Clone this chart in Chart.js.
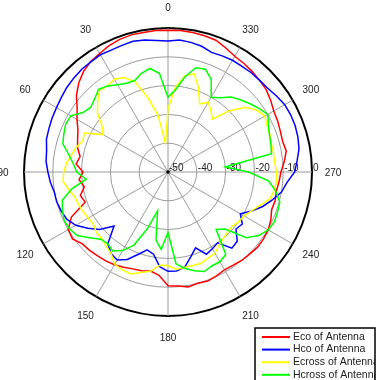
<!DOCTYPE html>
<html><head><meta charset="utf-8">
<script src="https://cdn.jsdelivr.net/npm/chart.js@4.4.0/dist/chart.umd.min.js"></script>
<style>html,body{margin:0;padding:0;background:#fff;overflow:hidden}canvas{display:block}</style>
</head><body>
<canvas id="c" width="387" height="380"></canvas>
<script>
// Measurement angles (degrees, counter-clockwise from top)
const angles = [0,5,10,15,20,25,30,35,40,45,50,55,60,65,70,75,80,85,90,95,100,105,110,115,
  120,125,130,135,140,145,150,155,160,165,170,175,180,185,190,195,200,205,210,215,220,225,230,235,
  240,245,250,255,260,265,270,275,280,285,290,295,300,305,310,315,320,325,330,335,340,345,350,355];

const eco = [-0.8,-0.7,-0.8,-0.7,-1.0,-1.6,-2.5,-3.2,-4.4,-6.2,-8.5,-11.5,
  -13.5,-15.5,-16.6,-17.5,-19.0,-18.0,-20.5,-19.0,-20.5,-18.5,-19.4,-13.0,
  -10.0,-9.5,-11.2,-11.5,-12.0,-12.3,-12.8,-13.5,-14.2,-14.5,-15.1,-14.0,
  -10.5,-10.3,-9.5,-10.0,-9.7,-10.2,-10.8,-10.5,-10.0,-9.8,-9.4,-9.5,
  -9.8,-10.6,-11.7,-11.5,-11.8,-11.3,-10.8,-9.5,-8.3,-8.8,-8.5,-8.0,
  -7.6,-6.5,-5.5,-5.0,-4.5,-4.0,-3.6,-2.5,-1.3,-1.0,-0.8,-0.7];

const hco = [-4.5,-4.2,-3.5,-3.0,-3.2,-3.3,-3.0,-3.3,-3.4,-3.8,-4.2,-4.8,
  -5.3,-5.6,-6.0,-6.3,-7.2,-7.5,-8.3,-9.0,-9.9,-10.0,-10.5,-11.2,
  -13.0,-16.0,-19.0,-23.5,-17.5,-15.5,-14.7,-16.5,-19.5,-22.0,-21.0,-17.0,
  -15.5,-15.5,-16.5,-19.5,-22.0,-18.5,-19.2,-20.0,-15.5,-16.0,-19.2,-18.5,
  -21.0,-18.0,-15.0,-12.5,-10.0,-8.5,-6.0,-5.0,-3.8,-3.3,-3.0,-3.0,
  -3.2,-4.0,-4.8,-5.0,-5.0,-5.2,-5.2,-5.5,-5.8,-4.8,-4.3,-4.0];

const ecross = [-28.0,-40.0,-30.0,-23.5,-16.7,-13.8,-12.8,-13.5,-13.0,-15.5,-18.0,-22.0,
  -24.0,-18.0,-18.5,-17.0,-16.0,-14.6,-13.8,-13.4,-15.0,-16.5,-17.0,-17.5,
  -18.0,-18.4,-17.5,-17.4,-16.5,-15.5,-13.0,-12.5,-12.3,-13.9,-15.0,-17.5,
  -17.5,-16.0,-16.4,-16.4,-16.3,-17.0,-17.4,-19.0,-20.0,-20.6,-20.8,-20.0,
  -19.5,-18.0,-16.0,-13.5,-12.5,-12.2,-12.3,-12.8,-12.8,-12.8,-12.3,-12.0,
  -11.2,-12.5,-15.0,-20.0,-26.0,-24.0,-22.0,-24.0,-19.0,-14.7,-16.0,-20.5];

const hcross = [-24.0,-15.6,-13.5,-14.5,-16.2,-16.0,-15.0,-13.5,-12.5,-14.0,-15.0,-14.0,
  -11.0,-10.8,-11.5,-12.2,-15.0,-17.0,-18.3,-21.5,-16.0,-12.0,-11.0,-10.2,
  -10.5,-11.5,-14.5,-17.0,-17.5,-16.5,-18.5,-22.0,-29.0,-36.0,-26.0,-23.0,
  -29.0,-18.0,-16.0,-14.5,-13.2,-14.0,-14.0,-15.0,-24.0,-22.0,-14.5,-11.5,
  -9.8,-9.2,-9.5,-9.8,-12.0,-15.0,-22.0,-30.0,-13.5,-13.0,-12.5,-11.5,
  -10.0,-11.5,-13.0,-14.5,-16.0,-18.5,-20.0,-14.5,-12.0,-12.5,-16.5,-21.5];

const seriesNames = ['Eco of Antenna','Hco of Antenna','Ecross of Antenna','Hcross of Antenna'];
const seriesColors = ['#ff0000','#0000ff','#ffff00','#00ff00'];
const radialTicks = [-50,-40,-30,-20,-10,0];
const angleTickLabels = [0,30,60,90,120,150,180,210,240,270,300,330];

// Radar scale runs clockwise; the plot's angles increase counter-clockwise.
const order = angles.map((a, i) => (angles.length - i) % angles.length);
const labels = order.map(k => String(angles[k]));
const toRadar = arr => order.map(k => arr[k]);

const FONT = '10px "Liberation Sans", Arial, sans-serif';
const LEGEND_FONT = '10.5px "Liberation Sans", Arial, sans-serif';

const polarDecor = {
  id: 'polarDecor',
  beforeDatasetsDraw(chart) {
    const s = chart.scales.r, ctx = chart.ctx;
    ctx.save();
    ctx.font = FONT;
    ctx.fillStyle = '#222';
    ctx.textAlign = 'left';
    ctx.textBaseline = 'bottom';
    const idx = labels.indexOf('270');
    radialTicks.forEach(v => {
      const p = s.getPointPositionForValue(idx, v);
      ctx.fillText(String(v), p.x + 1, p.y + 1);
    });
    ctx.textAlign = 'center';
    ctx.textBaseline = 'middle';
    labels.forEach((lab, i) => {
      if (!angleTickLabels.includes(Number(lab))) return;
      const p = s.getPointPosition(i, s.drawingArea + 21);
      ctx.fillText(lab, p.x, p.y + 1);
    });
    ctx.beginPath();
    ctx.arc(s.xCenter, s.yCenter, 1.8, 0, Math.PI * 2);
    ctx.fillStyle = '#000';
    ctx.fill();
    ctx.restore();
  },
  afterDraw(chart) {
    const ctx = chart.ctx;
    const lx = 255, ly = 328, lw = 120, lh = 60;
    ctx.save();
    ctx.fillStyle = '#fff';
    ctx.fillRect(lx, ly, lw, lh);
    ctx.beginPath();
    ctx.rect(lx, ly, lw, lh);
    ctx.clip();
    ctx.font = LEGEND_FONT;
    ctx.textAlign = 'left';
    ctx.textBaseline = 'middle';
    chart.data.datasets.forEach((ds, i) => {
      const y = ly + 9 + i * 12.6;
      ctx.strokeStyle = ds.borderColor;
      ctx.lineWidth = 2;
      ctx.beginPath();
      ctx.moveTo(lx + 7, y);
      ctx.lineTo(lx + 35, y);
      ctx.stroke();
      ctx.fillStyle = '#222';
      ctx.fillText(ds.label, lx + 38, y);
    });
    ctx.restore();
    ctx.save();
    ctx.strokeStyle = '#000';
    ctx.lineWidth = 1.5;
    ctx.strokeRect(lx, ly, lw, lh);
    ctx.restore();
  }
};

const seriesData = [eco, hco, ecross, hcross];
new Chart(document.getElementById('c'), {
  type: 'radar',
  data: {
    labels: labels,
    datasets: seriesData.map((arr, i) => ({
      label: seriesNames[i],
      data: toRadar(arr),
      borderColor: seriesColors[i],
      backgroundColor: 'transparent',
      fill: false,
      borderWidth: 1.5,
      order: seriesData.length - i
    }))
  },
  options: {
    responsive: false,
    animation: false,
    devicePixelRatio: 1,
    layout: { padding: { left: 24, right: 75, top: 28, bottom: 64 } },
    plugins: { legend: { display: false }, tooltip: { enabled: false } },
    elements: { point: { radius: 0, hoverRadius: 0 }, line: { tension: 0 } },
    scales: {
      r: {
        min: -50, max: 0, startAngle: 0,
        ticks: { stepSize: 10, display: false },
        pointLabels: { display: false },
        grid: {
          circular: true,
          color: c => (c.tick && c.tick.value === 0) ? '#000' : '#9a9a9a',
          lineWidth: c => (c.tick && c.tick.value === 0) ? 2 : 1
        },
        angleLines: {
          color: '#9a9a9a',
          lineWidth: c => (Number(labels[c.index]) % 30 === 0) ? 1 : 0
        }
      }
    }
  },
  plugins: [polarDecor]
});
</script>
</body></html>
